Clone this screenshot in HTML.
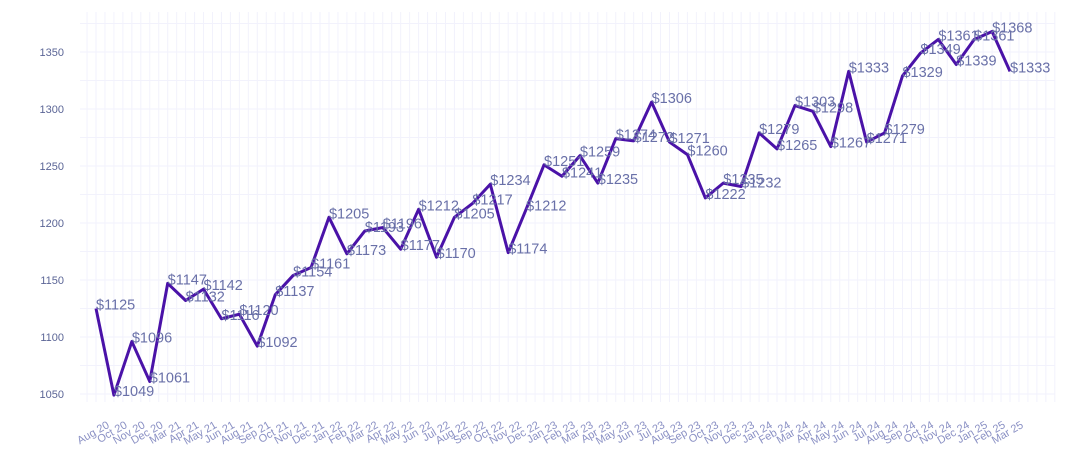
<!DOCTYPE html>
<html><head><meta charset="utf-8"><style>
body{margin:0;background:#fff;font-family:"Liberation Sans",sans-serif}
</style></head><body>
<svg id="chart" width="1070" height="465" xmlns="http://www.w3.org/2000/svg"></svg>
<script>
const categories=["Aug 20","Oct 20","Nov 20","Dec 20","Mar 21","Apr 21","May 21","Jun 21","Aug 21","Sep 21","Oct 21","Nov 21","Dec 21","Jan 22","Feb 22","Mar 22","Apr 22","May 22","Jun 22","Jul 22","Aug 22","Sep 22","Oct 22","Nov 22","Dec 22","Jan 23","Feb 23","Mar 23","Apr 23","May 23","Jun 23","Jul 23","Aug 23","Sep 23","Oct 23","Nov 23","Dec 23","Jan 24","Feb 24","Mar 24","Apr 24","May 24","Jun 24","Jul 24","Aug 24","Sep 24","Oct 24","Nov 24","Dec 24","Jan 25","Feb 25","Mar 25"];
const prices=[1125,1049,1096,1061,1147,1132,1142,1116,1120,1092,1137,1154,1161,1205,1173,1193,1196,1177,1212,1170,1205,1217,1234,1174,1212,1251,1241,1259,1235,1274,1272,1306,1271,1260,1222,1235,1232,1279,1265,1303,1298,1267,1333,1271,1279,1329,1349,1361,1339,1361,1368,1333];
const yTicks=[1050,1100,1150,1200,1250,1300,1350];
const NS="http://www.w3.org/2000/svg";
const svg=document.getElementById('chart');
const L=80,R=1055,T=12,B=402;
const x0=96,x1=1010;
function xs(i){return x0+(x1-x0)*i/(categories.length-1);}
function ys(v){return 394-(v-1050)*(342/300);}
function mk(t,a,p){const e=document.createElementNS(NS,t);for(const k in a)e.setAttribute(k,a[k]);(p||svg).appendChild(e);return e;}
const grid=mk('g',{});


const step=(x1-x0)/(categories.length-1);
for(let x=x0-step*0.5;x<=R;x+=step/2){
  mk('line',{x1:x,x2:x,y1:T,y2:B,stroke:'#f2f2fc','stroke-width':1},grid);
}
for(let v=1025;v<=1375;v+=25){
  const y=ys(v);if(y<T||y>B)continue;
  mk('line',{x1:L,x2:R,y1:y,y2:y,stroke:'#f2f2fc','stroke-width':1},grid);
}
const yAxis=mk('g',{});


yTicks.forEach(v=>{
  const t=mk('text',{x:64,y:ys(v)+4,'text-anchor':'end','font-size':11,fill:'#5b6596'},yAxis);
  
  
  t.textContent=v;
});
const xAxis=mk('g',{});


categories.forEach((c,i)=>{
  const x=xs(i)+14,y=427;
  const t=mk('text',{x:x,y:y,'text-anchor':'end','font-size':11,fill:'#8a90c4',transform:`rotate(-30 ${x} ${y})`},xAxis);
  
  
  t.textContent=c;
});
const pts=prices.map((v,i)=>xs(i)+','+ys(v)).join(' ');
const line=mk('polyline',{points:pts,fill:'none',stroke:'#4a12a8','stroke-width':3,'stroke-linejoin':'round'});


const lbls=mk('g',{});


prices.forEach((v,i)=>{
  const t=mk('text',{x:xs(i),y:ys(v)+1,'font-size':14.5,fill:'#6970a8'},lbls);
  
  
  t.textContent='$'+v;
});
</script>
</body></html>
